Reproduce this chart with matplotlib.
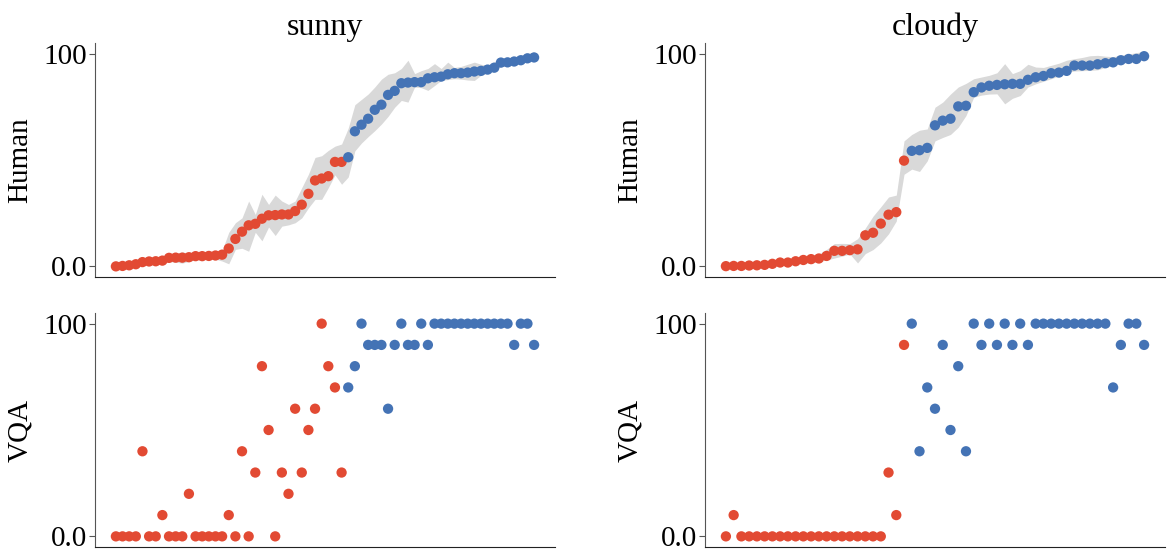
import numpy as np
import matplotlib
matplotlib.use("Agg")
import matplotlib.pyplot as plt

plt.rcParams['font.family'] = ['Liberation Serif', 'DejaVu Serif']

RED = '#e24a33'
BLUE = '#4473b5'
BAND = '#d9d9d9'

conditions = ['sunny', 'cloudy']
row_labels = ['Human', 'VQA']
ytick_vals = [0, 100]
ytick_text = ['0.0', '100']

# sunny: 64 items, first 35 red
sunny_split = 35
sunny_human = [0.0, 0.2, 0.5, 1.0, 2.0, 2.3, 2.4, 2.7, 4.0, 4.1, 4.1, 4.3, 4.8, 4.8, 4.9, 5.1,
               5.5, 8.4, 12.9, 16.3, 19.3, 20.0, 22.4, 24.0, 24.1, 24.4, 24.4, 26.0, 29.0, 34.1,
               40.4, 41.3, 42.4, 49.1, 49.1, 51.3, 63.5, 66.6, 69.4, 73.6, 76.0, 80.6, 82.5,
               86.1, 86.4, 86.6, 86.6, 88.4, 88.9, 89.2, 90.3, 90.8, 90.8, 91.1, 91.6, 91.9,
               92.5, 93.4, 95.8, 95.9, 96.3, 96.9, 97.8, 98.2]
sunny_lo = [-0.8, -0.7, -0.4, 0.0, 0.8, 1.0, 1.1, 1.2, 2.2, 2.0, 1.5, 2.4, 3.0, 3.2, 3.3, 3.4,
            2.5, 1.2, 8.0, 8.5, 7.1, 16.0, 12.0, 18.5, 14.5, 18.9, 19.5, 20.5, 22.8, 27.5,
            31.5, 31.5, 37.0, 43.0, 38.6, 42.0, 54.3, 58.0, 61.0, 63.8, 66.9, 70.5, 74.8,
            78.0, 77.2, 84.3, 84.0, 82.7, 85.0, 87.4, 87.8, 88.2, 88.0, 87.6, 87.4, 89.8,
            91.0, 93.0, 93.7, 94.5, 95.5, 96.0, 96.5, 96.9]
sunny_hi = [1.0, 1.2, 1.5, 2.2, 3.3, 3.6, 3.8, 4.3, 5.8, 6.2, 6.8, 6.2, 6.3, 6.3, 6.5, 6.8,
            7.5, 16.0, 20.5, 22.8, 30.7, 24.4, 33.9, 29.1, 33.5, 30.7, 29.1, 30.7, 37.0, 43.3,
            51.2, 52.0, 54.5, 56.5, 57.5, 65.0, 76.0, 78.5, 81.0, 84.3, 88.0, 90.3, 91.0,
            93.0, 96.9, 90.6, 92.0, 93.0, 95.3, 93.0, 96.0, 93.5, 94.0, 95.0, 96.0, 95.0,
            94.5, 96.0, 97.6, 98.0, 98.5, 99.2, 100.0, 100.8]
sunny_vqa = [0, 0, 0, 0, 40, 0, 0, 10, 0, 0, 0, 20, 0, 0, 0, 0, 0, 10, 0, 40, 0, 30, 80, 50,
             0, 30, 20, 60, 30, 50, 60, 100, 80, 70, 30, 70, 80, 100, 90, 90, 90, 60, 90,
             100, 90, 90, 100, 90, 100, 100, 100, 100, 100, 100, 100, 100, 100, 100, 100,
             100, 90, 100, 100, 90]

# cloudy: 55 items, first 24 red
cloudy_split = 24
cloudy_human = [0.1, 0.2, 0.2, 0.4, 0.5, 0.7, 1.2, 1.8, 1.8, 2.4, 3.0, 3.4, 3.7, 4.9, 7.3,
                7.3, 7.6, 8.0, 14.6, 15.8, 20.1, 24.3, 25.5, 49.7, 54.3, 54.6, 55.7, 66.3,
                68.5, 69.4, 75.2, 75.5, 81.9, 84.1, 84.9, 85.3, 85.6, 85.8, 85.8, 87.7, 88.9,
                89.5, 90.8, 91.1, 91.9, 94.4, 94.4, 94.4, 95.0, 95.5, 95.9, 96.9, 97.5, 97.5,
                98.8]
cloudy_lo = [-0.6, -0.5, -0.5, -0.3, -0.2, 0.0, 0.4, 0.8, 0.9, 1.3, 1.6, 1.6, 2.2, 3.0, 3.9,
             4.8, 5.8, 1.6, 6.0, 7.9, 11.0, 15.3, 21.3, 43.3, 45.7, 44.6, 49.6, 59.0, 60.6,
             62.0, 65.4, 70.9, 79.5, 80.5, 81.0, 81.1, 76.4, 79.0, 80.3, 84.3, 85.8, 87.0,
             88.2, 89.5, 91.3, 91.8, 92.0, 92.1, 92.4, 93.5, 94.5, 95.5, 96.3, 97.2, 97.5]
cloudy_hi = [0.8, 0.9, 1.0, 1.2, 1.4, 1.6, 2.0, 2.7, 2.8, 3.4, 4.2, 5.0, 5.8, 8.0, 10.7,
             10.8, 10.7, 13.0, 18.0, 23.6, 28.0, 32.6, 33.5, 59.0, 62.0, 64.0, 64.6, 74.8,
             77.2, 81.0, 84.3, 86.0, 88.2, 89.0, 89.8, 91.0, 95.3, 90.6, 92.0, 95.0, 93.7,
             93.5, 94.5, 95.5, 96.9, 97.6, 98.2, 99.0, 99.2, 98.8, 98.6, 99.2, 99.8, 100.5,
             101.0]
cloudy_vqa = [0, 10, 0, 0, 0, 0, 0, 0, 0, 0, 0, 0, 0, 0, 0, 0, 0, 0, 0, 0, 0, 30, 10, 90,
              100, 40, 70, 60, 90, 50, 80, 40, 100, 90, 100, 90, 100, 90, 100, 90, 100, 100,
              100, 100, 100, 100, 100, 100, 100, 100, 70, 90, 100, 100, 90]

data = {
    'sunny': (sunny_human, sunny_lo, sunny_hi, sunny_vqa, sunny_split),
    'cloudy': (cloudy_human, cloudy_lo, cloudy_hi, cloudy_vqa, cloudy_split),
}


def style_axis(ax, label):
    for s in ['top', 'right']:
        ax.spines[s].set_visible(False)
    ax.spines['left'].set_color('#555555')
    ax.spines['bottom'].set_color('#222222')
    ax.set_xticks([])
    ax.set_yticks(ytick_vals)
    ax.set_yticklabels(ytick_text)
    ax.tick_params(axis='y', labelsize=21, length=4, color='#555555', pad=2)
    ax.set_ylabel(label, fontsize=21, labelpad=7)


fig = plt.figure(figsize=(11.69, 5.54), dpi=100)
lefts = [95 / 1169, 705 / 1169]
w = 460 / 1169
h = 234 / 554

for col, cond in enumerate(conditions):
    human, lo, hi, vqa, split = data[cond]
    x = np.arange(len(human))
    colors = [RED if i < split else BLUE for i in x]

    ax1 = fig.add_axes([lefts[col], 0.5, w, h])
    ax1.fill_between(x, lo, hi, color=BAND, linewidth=0, zorder=1)
    ax1.scatter(x, human, c=colors, s=55, linewidths=0, zorder=2)
    ax1.set_ylim(-5, 105)
    style_axis(ax1, row_labels[0])
    ax1.set_title(cond, fontsize=23, pad=6)

    ax2 = fig.add_axes([lefts[col], 7 / 554, w, h])
    ax2.scatter(x, vqa, c=colors, s=55, linewidths=0, zorder=2)
    ax2.set_xlim(ax1.get_xlim())
    ax2.set_ylim(-5, 105)
    style_axis(ax2, row_labels[1])

fig.savefig('out.png', dpi=100)
